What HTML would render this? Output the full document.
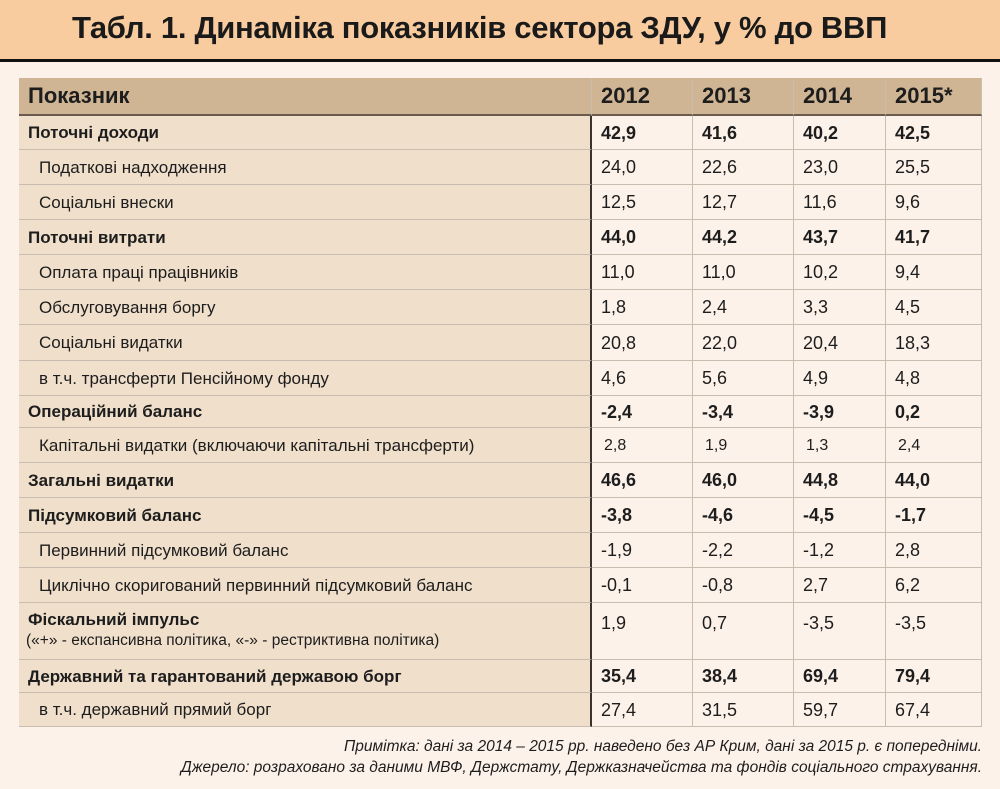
<!DOCTYPE html>
<html><head><meta charset="utf-8">
<style>
body{margin:0;width:1000px;height:789px;background:#fdf2ea;font-family:"Liberation Sans","DejaVu Sans",sans-serif;position:relative;overflow:hidden;color:#1d1d1d}
#title{position:absolute;left:0;top:0;width:1000px;height:59px;background:#f8cc9f;border-bottom:3px solid #111}
#title span{position:absolute;left:72px;top:10px;font-size:31px;font-weight:bold;letter-spacing:-0.3px;color:#1a1a1a}
.cell{position:absolute;box-sizing:border-box;border-right:1px solid #c9bdb0;border-bottom:1px solid #c9bdb0;font-size:18px;padding-left:9px}
.lab{background:#f0dfcb;font-size:17px}
.num{background:#fdf2ea}
.hd{background:#d0b595;font-weight:bold;font-size:22px;border-bottom:2px solid #6b5b4c}
.b{font-weight:bold}
.ind{padding-left:20px}
#note{position:absolute;right:18px;top:736px;text-align:right;font-style:italic;font-size:15.5px;line-height:21px}
</style></head><body>
<div id="title"><span>Табл. 1. Динаміка показників сектора ЗДУ, у % до ВВП</span></div>
<div id="tbl"></div>
<div id="note">Примітка: дані за 2014 – 2015 рр. наведено без АР Крим, дані за 2015 р. є попередніми.<br>Джерело: розраховано за даними МВФ, Держстату, Держказначейства та фондів соціального страхування.</div>
<script>
const years=["2012","2013","2014","2015*"];
const labels=["Поточні доходи","Податкові надходження","Соціальні внески","Поточні витрати","Оплата праці працівників","Обслуговування боргу","Соціальні видатки","в т.ч. трансферти Пенсійному фонду","Операційний баланс","Капітальні видатки (включаючи капітальні трансферти)","Загальні видатки","Підсумковий баланс","Первинний підсумковий баланс","Циклічно скоригований первинний підсумковий баланс","Фіскальний імпульс","Державний та гарантований державою борг","в т.ч. державний прямий борг"];
const bold=[1,0,0,1,0,0,0,0,1,0,1,1,0,0,0,1,0];
const v2012=["42,9","24,0","12,5","44,0","11,0","1,8","20,8","4,6","-2,4","2,8","46,6","-3,8","-1,9","-0,1","1,9","35,4","27,4"];
const v2013=["41,6","22,6","12,7","44,2","11,0","2,4","22,0","5,6","-3,4","1,9","46,0","-4,6","-2,2","-0,8","0,7","38,4","31,5"];
const v2014=["40,2","23,0","11,6","43,7","10,2","3,3","20,4","4,9","-3,9","1,3","44,8","-4,5","-1,2","2,7","-3,5","69,4","59,7"];
const v2015=["42,5","25,5","9,6","41,7","9,4","4,5","18,3","4,8","0,2","2,4","44,0","-1,7","2,8","6,2","-3,5","79,4","67,4"];
const series=[v2012,v2013,v2014,v2015];
const colX=[19,592,693,794,886,982];
const rowY=[116,150,185,220,255,290,325,361,396,428,463,498,533,568,603,660,693,727];
const tbl=document.getElementById('tbl');
function mk(x,y,w,h,cls,html,lh){const d=document.createElement('div');d.className='cell '+cls;d.style.left=x+'px';d.style.top=y+'px';d.style.width=w+'px';d.style.height=h+'px';d.style.lineHeight=(lh||h)+'px';d.innerHTML=html;tbl.appendChild(d);return d;}
let h=mk(19,78,573,38,'hd','Показник',36);


years.forEach((y,i)=>{const c=mk(colX[i+1],78,colX[i+2]-colX[i+1],38,'hd',y,36);

});
labels.forEach((l,r)=>{const y0=rowY[r],hh=rowY[r+1]-y0;let html=l,lh=hh;
let cls='lab'+(bold[r]?' b':' ind');
if(r===14){html='<div style="line-height:20px;padding-top:7px"><b>Фіскальний імпульс</b><br><span style="font-size:15.5px;margin-left:-2px">(«+» - експансивна політика, «-» - рестриктивна політика)</span></div>';lh=20;cls='lab';}
const c=mk(19,y0,573,hh,cls,html,lh);
c.style.borderRight='2px solid #3a332d';


series.forEach((s,i)=>{const d=mk(colX[i+1],y0,colX[i+2]-colX[i+1],hh,'num'+(bold[r]?' b':''),s[r],r===14?40:hh);
if(r===9){d.style.fontSize='16px';d.style.paddingLeft='12px';}

});
});
</script>
</body></html>
